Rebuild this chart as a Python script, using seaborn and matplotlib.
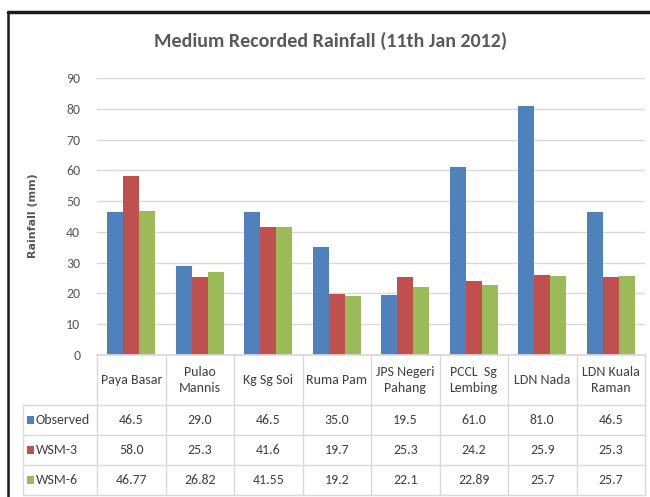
import matplotlib
matplotlib.use("Agg")
import matplotlib.pyplot as plt
import matplotlib.transforms as mtransforms
from matplotlib.lines import Line2D
from matplotlib.patches import Rectangle
import seaborn as sns
import pandas as pd

# Stations and rainfall (mm) for each source
stations = ["Paya Basar", "Pulao\nMannis", "Kg Sg Soi", "Ruma Pam", "JPS Negeri\nPahang",
            "PCCL  Sg\nLembing", "LDN Nada", "LDN Kuala\nRaman"]
series = ["Observed", "WSM-3", "WSM-6"]
observed = [46.5, 29.0, 46.5, 35.0, 19.5, 61.0, 81.0, 46.5]
wsm3 = [58.0, 25.3, 41.6, 19.7, 25.3, 24.2, 25.9, 25.3]
wsm6 = [46.77, 26.82, 41.55, 19.2, 22.1, 22.89, 25.7, 25.7]
# Table text as printed in each row
observed_txt = ["46.5", "29.0", "46.5", "35.0", "19.5", "61.0", "81.0", "46.5"]
wsm3_txt = ["58.0", "25.3", "41.6", "19.7", "25.3", "24.2", "25.9", "25.3"]
wsm6_txt = ["46.77", "26.82", "41.55", "19.2", "22.1", "22.89", "25.7", "25.7"]
yticks = [0, 10, 20, 30, 40, 50, 60, 70, 80, 90]

colors = ["#4F81BD", "#C0504D", "#9BBB59"]
text_color = "#595959"
table_text = "#404040"
grid_color = "#D9D9D9"
W, H = 650, 497

sns.set_theme(style="white")
plt.rcParams["font.family"] = ["Carlito", "DejaVu Sans"]

df = pd.DataFrame({
    "station": stations * 3,
    "series": sum([[s] * len(stations) for s in series], []),
    "rain": observed + wsm3 + wsm6,
})

fig = plt.figure(figsize=(W / 100, H / 100), dpi=100)
fig.patch.set_facecolor("white")


def fx(x):
    return x / W


def fy(y):
    return 1 - y / H


ax_left, ax_right, ax_top, ax_bottom = 97, 645, 78, 355
ax = fig.add_axes([fx(ax_left), fy(ax_bottom), (ax_right - ax_left) / W, (ax_bottom - ax_top) / H])

sns.barplot(data=df, x="station", y="rain", hue="series", order=stations,
            hue_order=series, palette=colors, width=0.7, saturation=1,
            legend=False, ax=ax, linewidth=0)

ax.set_xlim(-0.5, len(stations) - 0.5)
ax.set_ylim(0, 90)
ax.set_yticks(yticks)
ax.set_yticklabels([str(t) for t in yticks], color=text_color, fontsize=10)
ax.set_xticks([])
ax.set_xlabel("")
ax.set_ylabel("")
ax.yaxis.grid(True, color=grid_color, linewidth=1)
ax.set_axisbelow(True)
for side in ["top", "right", "left"]:
    ax.spines[side].set_visible(False)
ax.spines["bottom"].set_color(grid_color)
ax.tick_params(axis="y", length=4, color=grid_color, pad=8)

# Title and axis label
fig.text(fx(331), fy(41), "Medium Recorded Rainfall (11th Jan 2012)", ha="center", va="center",
         fontsize=14.4, fontweight="bold", color=text_color)
fig.text(fx(33), fy(216), "Rainfall (mm)", ha="center", va="center", rotation=90,
         fontsize=8, fontweight="bold", color=text_color, family=["DejaVu Sans"])

# Data table under the plot
trans = mtransforms.blended_transform_factory(ax.transData, fig.transFigure)
line_kw = dict(color=grid_color, linewidth=1)
header_top, header_bottom = ax_bottom, 405
row_lines = [405, 435, 465, 495]
table_left = 23
n = len(stations)

for i in range(n + 1):
    xb = i - 0.5
    fig.add_artist(Line2D([xb, xb], [fy(header_top), fy(row_lines[-1])], transform=trans, **line_kw))
for yl in row_lines:
    fig.add_artist(Line2D([fx(table_left), fx(ax_right)], [fy(yl), fy(yl)],
                          transform=fig.transFigure, **line_kw))
fig.add_artist(Line2D([fx(table_left), fx(table_left)], [fy(row_lines[0]), fy(row_lines[-1])],
                      transform=fig.transFigure, **line_kw))

for i, name in enumerate(stations):
    fig.text(i, fy((header_top + header_bottom) / 2), name, transform=trans, ha="center",
             va="center", fontsize=10, color=table_text, linespacing=1.45)

rows = [observed_txt, wsm3_txt, wsm6_txt]
for r, (label, vals, col) in enumerate(zip(series, rows, colors)):
    yc = (row_lines[r] + row_lines[r + 1]) / 2
    fig.add_artist(Rectangle((fx(27), fy(yc + 4)), 7 / W, 8 / H, transform=fig.transFigure,
                             facecolor=col, edgecolor="none"))
    fig.text(fx(36), fy(yc), label, ha="left", va="center", fontsize=10, color=table_text)
    for i, v in enumerate(vals):
        fig.text(i, fy(yc), v, transform=trans, ha="center", va="center",
                 fontsize=10, color=table_text)

# Frame lines along the top and left edges
fig.add_artist(Line2D([fx(8), fx(650)], [fy(12), fy(12)], transform=fig.transFigure,
                      color="#1a1a1a", linewidth=2.5))
fig.add_artist(Line2D([fx(8), fx(8)], [fy(12), fy(497)], transform=fig.transFigure,
                      color="#1a1a1a", linewidth=1.8))

fig.savefig("out.png", dpi=100, facecolor="white")
